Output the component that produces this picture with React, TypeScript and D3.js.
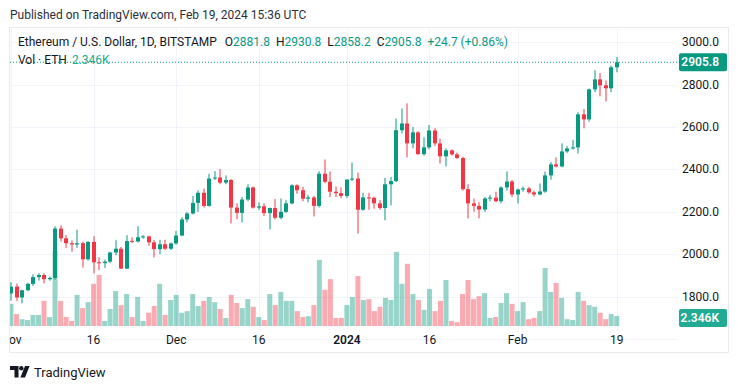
import React from "react";
import * as d3 from "d3";

// ETH/USD daily, Bitstamp, 2023-11-01 .. 2024-02-19
const open = [
  1815, 1847, 1796, 1830, 1860, 1892, 1902, 1882, 1888, 2121, 2075, 2052, 2046, 2052, 1976, 2058, 1962, 1958, 1965, 2008,
  2026, 1932, 2063, 2060, 2080, 2084, 2056, 2024, 2047, 2026,
  2051, 2088, 2164, 2192, 2242, 2290, 2228, 2357, 2362, 2338, 2350, 2220, 2195, 2258, 2315, 2220, 2226, 2194, 2218, 2172,
  2200, 2240, 2325, 2302, 2262, 2268, 2228, 2380, 2342, 2295, 2288,
  2275, 2352, 2357, 2210, 2268, 2266, 2240, 2218, 2330, 2345, 2585, 2617, 2523, 2575, 2472, 2504, 2584, 2523, 2462, 2490,
  2471, 2454, 2307, 2240, 2228, 2211, 2263, 2267, 2250, 2315, 2343,
  2282, 2305, 2310, 2292, 2282, 2296, 2372, 2424, 2414, 2485, 2499, 2504, 2660, 2636, 2778, 2825, 2797, 2783, 2881.8,
];
const high = [
  1868, 1862, 1833, 1865, 1905, 1910, 1910, 1895, 2132, 2136, 2090, 2065, 2116, 2060, 2062, 2085, 1985, 1975, 2012, 2066,
  2035, 2090, 2080, 2132, 2090, 2088, 2068, 2068, 2068, 2055,
  2110, 2175, 2200, 2275, 2300, 2310, 2380, 2392, 2402, 2372, 2355, 2240, 2270, 2330, 2320, 2245, 2240, 2220, 2260, 2263,
  2255, 2330, 2330, 2318, 2280, 2275, 2392, 2447, 2390, 2320, 2315,
  2355, 2433, 2385, 2290, 2290, 2272, 2255, 2360, 2365, 2640, 2688, 2712, 2600, 2580, 2551, 2610, 2595, 2545, 2500, 2495,
  2480, 2460, 2330, 2262, 2245, 2270, 2280, 2295, 2320, 2391, 2350,
  2310, 2320, 2318, 2300, 2334, 2390, 2435, 2457, 2523, 2510, 2540, 2670, 2685, 2782, 2868, 2855, 2820, 2890, 2930.8,
];
const low = [
  1780, 1780, 1768, 1826, 1850, 1876, 1862, 1875, 1880, 2060, 2030, 2012, 2030, 1937, 1970, 1910, 1925, 1935, 1958, 1995,
  1930, 1930, 2052, 2055, 2073, 2040, 1985, 2000, 2020, 2020,
  2045, 2085, 2150, 2188, 2200, 2220, 2225, 2350, 2330, 2330, 2145, 2165, 2150, 2250, 2215, 2208, 2180, 2117, 2165, 2165,
  2195, 2235, 2285, 2250, 2245, 2178, 2220, 2335, 2270, 2270, 2265,
  2265, 2345, 2097, 2205, 2210, 2215, 2210, 2160, 2230, 2340, 2570, 2457, 2500, 2470, 2465, 2495, 2510, 2428, 2414, 2465,
  2450, 2300, 2169, 2200, 2169, 2200, 2250, 2245, 2240, 2300, 2270,
  2240, 2295, 2285, 2272, 2278, 2290, 2352, 2410, 2410, 2478, 2494, 2475, 2594, 2625, 2765, 2745, 2721, 2765, 2858.2,
];
const close = [
  1847, 1796, 1830, 1860, 1892, 1902, 1882, 1888, 2121, 2075, 2052, 2046, 2052, 1976, 2058, 1962, 1958, 1965, 2008, 2026,
  1932, 2062, 2060, 2080, 2084, 2056, 2024, 2047, 2026, 2051,
  2088, 2164, 2192, 2242, 2290, 2228, 2357, 2362, 2338, 2350, 2220, 2195, 2258, 2315, 2220, 2226, 2194, 2218, 2172, 2200,
  2240, 2325, 2302, 2262, 2268, 2228, 2380, 2342, 2295, 2288, 2275,
  2352, 2357, 2210, 2268, 2266, 2240, 2218, 2330, 2345, 2585, 2617, 2523, 2575, 2472, 2504, 2584, 2523, 2462, 2490, 2471,
  2454, 2307, 2240, 2228, 2211, 2263, 2267, 2250, 2315, 2343, 2282,
  2305, 2310, 2292, 2282, 2296, 2372, 2424, 2414, 2485, 2499, 2504, 2660, 2636, 2778, 2825, 2797, 2783, 2882, 2905.8,
];
// volume in thousands of ETH
const volume = [
  5.2, 2.8, 1.6, 1.4, 2.6, 2.6, 5.9, 2.1, 17.6, 5.9, 2.1, 1.2, 7.3, 4.2, 5.6, 9.9, 12.0, 1.2, 4.0, 8.2,
  4.9, 7.5, 2.1, 6.8, 1.2, 3.1, 4.7, 9.9, 2.6, 6.1,
  7.3, 3.1, 3.5, 7.5, 4.7, 5.9, 6.8, 5.6, 4.0, 1.9, 7.3, 5.4, 4.2, 6.3, 4.5, 2.1, 1.4, 7.5, 4.9, 8.0,
  5.9, 5.9, 3.5, 2.1, 2.3, 4.9, 15.5, 8.5, 11.0, 1.9, 1.9,
  4.9, 6.8, 11.7, 6.1, 6.3, 3.5, 4.5, 6.6, 6.1, 17.4, 9.9, 14.6, 7.5, 6.1, 3.8, 8.7, 3.5, 5.9, 10.8, 1.2,
  0.9, 7.5, 10.8, 6.3, 7.0, 7.7, 1.9, 2.1, 5.4, 7.7, 5.2,
  3.5, 5.6, 1.6, 1.9, 3.5, 13.6, 8.0, 10.1, 6.6, 1.6, 1.4, 8.0, 5.9, 4.9, 4.5, 3.1, 1.6, 2.8, 2.346,
];
const priceTicks = [1800, 2000, 2200, 2400, 2600, 2800, 3000];
const timeTicks = ["2023-11-01", "2023-11-16", "2023-12-01", "2023-12-16", "2024-01-01", "2024-01-16", "2024-02-01", "2024-02-19"];
const timeLabels = ["Nov", "16", "Dec", "16", "2024", "16", "Feb", "19"];

const UP = "#089981";
const DOWN = "#F23645";
const FONT = "Roboto, 'Noto Sans', sans-serif";

const dates = d3.utcDay.range(new Date(Date.UTC(2023, 10, 1)), new Date(Date.UTC(2024, 1, 20)));

const App = () => {
  const plotL = 10, plotR = 677, plotT = 29, plotB = 330;
  const x = d3.scaleUtc().domain([dates[0], dates[dates.length - 1]]).range([11, 616.7]);
  const y = d3.scaleLinear().domain([1800, 3000]).range([296.6, 42.3]);
  const yVol = d3.scaleLinear().domain([0, d3.max(volume)!]).range([326, 251]);
  const bw = 4;
  const last = close[close.length - 1];
  const lastVol = volume[volume.length - 1];

  return (
    <svg width={738} height={389} style={{ position: "absolute", left: 0, top: 0, background: "#fff" }} fontFamily={FONT}>
      <defs>
        <clipPath id="plot">
          <rect x={plotL} y={plotT} width={plotR - plotL} height={plotB - plotT} />
        </clipPath>
        <clipPath id="xaxis">
          <rect x={plotL} y={330} width={plotR - plotL + 20} height={22} />
        </clipPath>
      </defs>
      <rect width={738} height={389} fill="#fff" />
      <text x={10} y={19} fontSize={12} fill="#2a2e39">Published on TradingView.com, Feb 19, 2024 15:36 UTC</text>

      <rect x={9.5} y={27.5} width={719} height={325} fill="#fff" stroke="#e8eaef" />

      {/* grid */}
      <g stroke="#f0f3fa" strokeWidth={1}>
        {priceTicks.map((p) => (
          <line key={p} x1={plotL} x2={plotR} y1={Math.round(y(p)) + 0.5} y2={Math.round(y(p)) + 0.5} />
        ))}
        <line x1={plotL} x2={plotR} y1={Math.round(y(1600)) + 0.5} y2={Math.round(y(1600)) + 0.5} />
        {timeTicks.map((t) => {
          const xx = Math.round(x(new Date(t + "T00:00:00Z"))) + 0.5;
          return <line key={t} x1={xx} x2={xx} y1={plotT} y2={plotB} />;
        })}
      </g>

      <g clipPath="url(#plot)">
        {/* volume */}
        {volume.map((v, i) => {
          const up = close[i] >= open[i];
          return (
            <rect
              key={"v" + i}
              x={x(dates[i]) - 2.5}
              y={yVol(v)}
              width={5}
              height={yVol(0) - yVol(v)}
              fill={up ? UP : DOWN}
              fillOpacity={0.42}
            />
          );
        })}
        {/* candles */}
        {dates.map((d, i) => {
          const up = close[i] >= open[i];
          const cx = Math.round(x(d));
          const top = y(Math.max(open[i], close[i]));
          const bot = y(Math.min(open[i], close[i]));
          const col = up ? UP : DOWN;
          return (
            <g key={"c" + i}>
              <line x1={cx} x2={cx} y1={y(high[i])} y2={y(low[i])} stroke={col} strokeWidth={1} />
              <rect x={cx - bw / 2} y={top} width={bw} height={Math.max(1, bot - top)} fill={col} />
            </g>
          );
        })}
        <line x1={plotL} x2={plotR} y1={y(last)} y2={y(last)} stroke={UP} strokeDasharray="1 2" />
      </g>

      {/* legend */}
      <text x={18} y={46} fontSize={12} fill="#131722">
        Ethereum / U.S. Dollar, 1D, BITSTAMP
        <tspan dx={8}>O</tspan>
        <tspan fill={UP}>{open[open.length - 1].toFixed(1)}</tspan>
        <tspan dx={6}>H</tspan>
        <tspan fill={UP}>{high[high.length - 1].toFixed(1)}</tspan>
        <tspan dx={6}>L</tspan>
        <tspan fill={UP}>{low[low.length - 1].toFixed(1)}</tspan>
        <tspan dx={6}>C</tspan>
        <tspan fill={UP}>{last.toFixed(1)}</tspan>
        <tspan dx={6} fill={UP}>+24.7 (+0.86%)</tspan>
      </text>
      <text x={18} y={64} fontSize={12} fill="#131722">
        Vol · ETH
        <tspan dx={5} fill="#22ab94">{lastVol.toFixed(3)}K</tspan>
      </text>

      {/* price scale */}
      {priceTicks.map((p) => (
        <text key={p} x={719} y={y(p) + 4} fontSize={12} textAnchor="end" fill="#131722">
          {p.toFixed(1)}
        </text>
      ))}
      <rect x={679} y={y(last) - 9} width={48} height={18} rx={2} fill={UP} />
      <text x={719} y={y(last) + 4} fontSize={12} fontWeight={600} textAnchor="end" fill="#fff">
        {last.toFixed(1)}
      </text>
      <rect x={679} y={yVol(lastVol) - 7} width={48} height={18} rx={2} fill="#22ab94" />
      <text x={719} y={yVol(lastVol) + 6} fontSize={12} fontWeight={600} textAnchor="end" fill="#fff">
        {lastVol.toFixed(3)}K
      </text>

      {/* time scale */}
      <g clipPath="url(#xaxis)">
        {timeTicks.map((t, i) => (
          <text
            key={t}
            x={x(new Date(t + "T00:00:00Z"))}
            y={344}
            fontSize={12}
            textAnchor="middle"
            fill="#131722"
            fontWeight={timeLabels[i] === "2024" ? 600 : 400}
          >
            {timeLabels[i]}
          </text>
        ))}
      </g>

      {/* logo */}
      <g fill="#131722">
        <path d="M10 366 h8.5 v11.5 h-4 v-7.5 h-4.5 z" />
        <circle cx={21.3} cy={368.3} r={2.2} />
        <path d="M25 366 h4.6 l-4.6 11.5 h-4.6 z" />
      </g>
      <text x={34} y={377} fontSize={13} fill="#131722">TradingView</text>
    </svg>
  );
};

export default App;
